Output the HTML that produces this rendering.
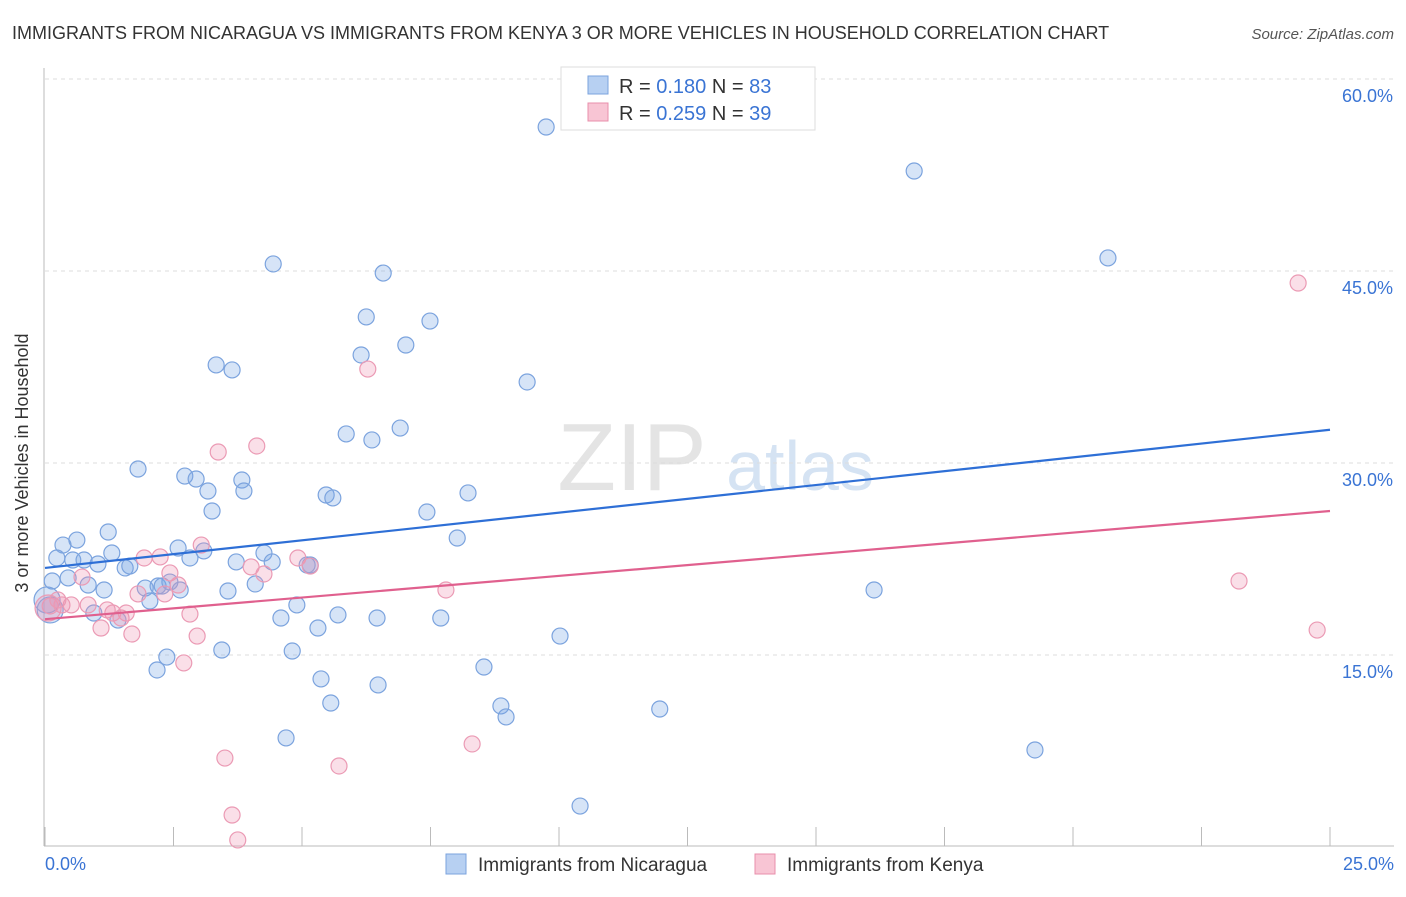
<!DOCTYPE html>
<html><head><meta charset="utf-8"><style>
body{margin:0;background:#fff;font-family:"Liberation Sans",sans-serif;}
svg text{font-family:"Liberation Sans",sans-serif;}
</style></head><body>
<svg id="chart" width="1406" height="892" xmlns="http://www.w3.org/2000/svg">
<text x="12" y="39" font-size="18" fill="#333">IMMIGRANTS FROM NICARAGUA VS IMMIGRANTS FROM KENYA 3 OR MORE VEHICLES IN HOUSEHOLD CORRELATION CHART</text>
<text x="1394" y="39" font-size="15" fill="#555" font-style="italic" text-anchor="end">Source: ZipAtlas.com</text>
<g>
<text x="632" y="490" font-size="96" fill="#e4e4e4" text-anchor="middle" font-family="Liberation Serif">ZIP</text>
<text x="800" y="490" font-size="70" fill="#d5e3f3" text-anchor="middle">atlas</text>
</g>
<g id="grid"></g>
<g id="axes"></g>
<g id="points"></g>
<g id="trends"></g>
<text x="20" y="455" font-size="18" fill="#333" transform="rotate(-90 28 455)" text-anchor="middle">3 or more Vehicles in Household</text>
<g>
<rect x="561" y="67" width="254" height="63" fill="#fff" stroke="#ddd"/>
<rect x="588" y="76" width="20" height="18" fill="#b7d0f2" stroke="#7ba3de"/>
<rect x="588" y="103" width="20" height="18" fill="#f8c5d4" stroke="#e88fab"/>
<text x="619" y="93" font-size="20" fill="#333">R = <tspan fill="#3a74d4">0.180</tspan>   N = <tspan fill="#3a74d4">83</tspan></text>
<text x="619" y="120" font-size="20" fill="#333">R = <tspan fill="#3a74d4">0.259</tspan>   N = <tspan fill="#3a74d4">39</tspan></text>
</g>
<g>
<rect x="446" y="854" width="20" height="20" fill="#b7d0f2" stroke="#7ba3de"/>
<text x="478" y="871" font-size="19" fill="#333">Immigrants from Nicaragua</text>
<rect x="755" y="854" width="20" height="20" fill="#f8c5d4" stroke="#e88fab"/>
<text x="787" y="871" font-size="19" fill="#333">Immigrants from Kenya</text>
</g>
</svg>
<script>
const xTicks=[0,2.5,5,7.5,10,12.5,15,17.5,20,22.5,25];
const yTicks=[15,30,45,60];
const yTickLabels=["15.0%","30.0%","45.0%","60.0%"];
const blueX=[9.75,16.91,20.68,4.44,6.58,6.25,7.49,7.02,6.15,3.33,3.64,9.38,1.81,2.72,2.94,3.17,3.83,3.87,3.25,5.86,6.36,6.91,5.47,5.60,8.23,7.43,8.02,1.23,0.62,0.35,0.23,0.54,0.76,1.03,1.30,1.56,1.65,2.59,2.82,3.09,3.72,4.26,4.42,5.10,5.16,0.45,0.14,0.84,1.15,1.95,2.20,2.43,2.63,2.28,2.04,3.56,4.09,4.90,0.95,1.42,4.59,5.31,5.70,6.46,7.70,10.02,16.13,3.44,2.37,2.18,4.81,8.54,5.37,6.48,5.56,8.87,8.97,11.96,4.69,19.26,10.41,0.04,0.10];
const blueY=[56.25,52.81,46.02,45.55,44.84,41.41,41.09,39.22,38.44,37.66,37.27,36.33,29.53,28.98,28.75,27.81,28.67,27.81,26.25,32.27,31.80,32.73,27.50,27.27,27.66,26.17,24.14,24.61,23.98,23.59,22.58,22.42,22.42,22.11,22.97,21.80,21.95,23.36,22.58,23.13,22.27,22.97,22.27,22.03,22.03,21.02,20.78,20.47,20.08,20.23,20.39,20.70,20.08,20.39,19.22,20.00,20.55,18.91,18.28,17.73,17.89,17.11,18.13,17.89,17.89,16.48,20.08,15.39,14.84,13.83,15.31,14.06,13.13,12.66,11.25,11.02,10.16,10.78,8.52,7.58,3.20,19.30,18.52];
const pinkX=[24.38,6.28,4.12,3.37,2.24,1.93,3.04,4.92,4.01,4.26,2.43,0.72,2.59,7.80,23.23,1.81,2.33,0.10,0.33,0.51,1.21,1.58,1.32,1.48,2.82,1.09,1.69,2.96,24.75,2.70,3.50,5.72,8.31,3.64,3.75,0.06,0.84,0.25,5.16];
const pinkY=[44.06,37.34,31.33,30.86,22.66,22.58,23.59,22.58,21.88,21.33,21.41,21.09,20.47,20.08,20.78,19.77,19.77,18.83,18.91,18.91,18.52,18.28,18.28,17.89,18.20,17.11,16.64,16.48,16.95,14.38,6.95,6.33,8.05,2.50,0.55,18.67,18.91,19.30,21.95];
const blueTrend=[21.8,32.6];
const pinkTrend=[17.8,26.25];
const NS="http://www.w3.org/2000/svg";
const xs=v=>45+v*(1285/25);
const ys=v=>847-v*12.8;
function mk(tag,attrs,parent){const e=document.createElementNS(NS,tag);for(const k in attrs)e.setAttribute(k,attrs[k]);parent.appendChild(e);return e;}
const grid=document.getElementById('grid'),axes=document.getElementById('axes'),pts=document.getElementById('points'),tr=document.getElementById('trends');
yTicks.forEach((t,i)=>{
 const l=mk('line',{x1:45,x2:1394,y1:ys(t),y2:ys(t),stroke:'#ddd','stroke-dasharray':'4 4'},grid);
 
 
 const tx=mk('text',{x:1393,y:ys(t)+23,'font-size':18,fill:'#3a74d4','text-anchor':'end'},axes);
 tx.textContent=yTickLabels[i];
 
 
});
mk('line',{x1:45,x2:1394,y1:ys(60),y2:ys(60),stroke:'#ddd','stroke-dasharray':'4 4'},grid);
mk('line',{x1:44,x2:44,y1:68,y2:846,stroke:'#bbb'},axes);
mk('line',{x1:44,x2:1394,y1:846,y2:846,stroke:'#bbb'},axes);
xTicks.forEach(t=>{
 const l=mk('line',{x1:xs(t),x2:xs(t),y1:827,y2:846,stroke:'#bbb'},axes);
 
 
});
const x0=mk('text',{x:45,y:870,'font-size':18,fill:'#3a74d4'},axes);x0.textContent='0.0%';


const x1=mk('text',{x:1394,y:870,'font-size':18,fill:'#3a74d4','text-anchor':'end'},axes);x1.textContent='25.0%';


blueX.forEach((v,i)=>{
 const r=(i>=blueX.length-2)?13:8;
 const c=mk('circle',{cx:xs(v),cy:ys(blueY[i]),r:r,fill:'rgba(120,165,230,0.3)',stroke:'#7ba3de','stroke-width':1.2},pts);
 
 
});
pinkX.forEach((v,i)=>{
 const r=(i==35)?13:8;
 const c=mk('circle',{cx:xs(v),cy:ys(pinkY[i]),r:r,fill:'rgba(240,150,180,0.3)',stroke:'#eb9ab4','stroke-width':1.2},pts);
 
 
});
const bl=mk('line',{x1:xs(0),x2:xs(25),y1:ys(blueTrend[0]),y2:ys(blueTrend[1]),stroke:'#2e6fd6','stroke-width':2.2},tr);


const pl=mk('line',{x1:xs(0),x2:xs(25),y1:ys(pinkTrend[0]),y2:ys(pinkTrend[1]),stroke:'#e0608e','stroke-width':2.2},tr);


</script>
</body></html>
